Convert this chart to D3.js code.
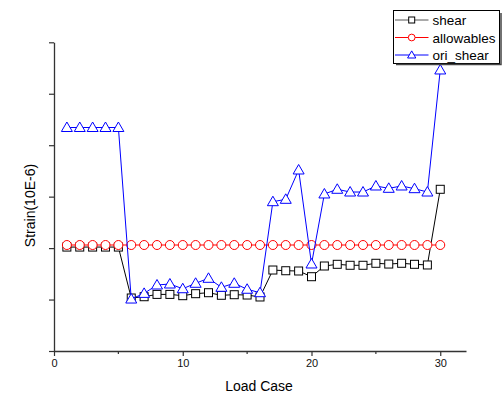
<!DOCTYPE html>
<html>
<head>
<meta charset="utf-8">
<style>
  body { margin: 0; background: #fff; }
  text { font-family: Arial, "Liberation Sans", sans-serif; }
</style>
</head>
<body>
<script src="https://d3js.org/d3.v7.min.js"></script>
<script>
  // DATA
  const loadCase = d3.range(1, 31);
  const shear = [202, 202, 202, 202, 202, 103, 105.5, 110, 110, 107.5,
    111.4, 113.3, 108.3, 109.4, 108.8, 105, 157.4, 156, 155.5, 144.4,
    165.2, 168.5, 166.6, 166.6, 170.5, 169, 170.5, 168.5, 167.2, 314.3];
  const allowables = loadCase.map(() => 206);
  const oriShear = [434.4, 434.4, 434.4, 434.4, 434.4, 101, 112, 128.3, 130.2, 121,
    131.6, 141.3, 123.8, 131.6, 120, 113.3, 290.2, 294.8, 351.8, 169.1,
    305.2, 314.3, 309, 309, 320.7, 316.2, 320.7, 315.5, 309, 546.2];
  const xTicks = [0, 10, 20, 30];
  const yTicks = [0, 100, 200, 300, 400, 500, 600];

  const series = [
    { name: "shear", values: shear, color: "#000000", legendColor: "#555555", marker: "square" },
    { name: "allowables", values: allowables, color: "#ff0000", legendColor: "#ff0000", marker: "circle" },
    { name: "ori_shear", values: oriShear, color: "#0000ff", legendColor: "#0000ff", marker: "triangle" }
  ];

  const width = 503, height = 396;
  const svg = d3.select("body").append("svg")
    .attr("width", width)
    .attr("height", height);

  const x = d3.scaleLinear().domain([0, 32]).range([54, 466]);
  const y = d3.scaleLinear().domain([0, 600]).range([351, 42.3]);

  // AXES
  const xAxis = d3.axisBottom(x).tickValues(xTicks).tickSize(5).tickSizeOuter(0).tickPadding(3);
  const gx = svg.append("g").attr("transform", "translate(0," + y(0) + ")").call(xAxis);
  gx.select(".domain").attr("stroke", "#333").attr("stroke-width", 1.3);
  gx.selectAll(".tick line").attr("stroke", "#333").attr("stroke-width", 1.2);
  gx.selectAll(".tick text").attr("font-size", 11).attr("fill", "#111");
  // minor ticks
  svg.append("g").selectAll("line")
    .data([5, 15, 25])
    .join("line")
    .attr("x1", d => x(d)).attr("x2", d => x(d))
    .attr("y1", y(0)).attr("y2", y(0) + 3)
    .attr("stroke", "#333").attr("stroke-width", 1.2);

  const yAxis = d3.axisLeft(y).tickValues(yTicks).tickSize(5).tickSizeOuter(0).tickFormat("");
  const gy = svg.append("g").attr("transform", "translate(" + x(0) + ",0)").call(yAxis);
  gy.select(".domain").attr("stroke", "#333").attr("stroke-width", 1.3);
  gy.selectAll(".tick line").attr("stroke", "#333").attr("stroke-width", 1.2);

  // AXIS TITLES
  svg.append("text")
    .attr("x", 259).attr("y", 391)
    .attr("text-anchor", "middle")
    .attr("font-size", 14)
    .text("Load Case");
  svg.append("text")
    .attr("transform", "translate(35,205.5) rotate(-90)")
    .attr("text-anchor", "middle")
    .attr("font-size", 14)
    .text("Strain(10E-6)");

  // MARKERS
  function drawMarker(g, type, cx, cy, color, k) {
    k = k || 1;
    if (type === "square") {
      g.append("rect")
        .attr("x", cx - 4 * k).attr("y", cy - 4 * k)
        .attr("width", 8 * k).attr("height", 8 * k)
        .attr("fill", "#fff").attr("stroke", color).attr("stroke-width", 1);
    } else if (type === "circle") {
      g.append("circle")
        .attr("cx", cx).attr("cy", cy).attr("r", 4.5 * k)
        .attr("fill", "#fff").attr("stroke", color).attr("stroke-width", 1);
    } else {
      g.append("path")
        .attr("d", "M" + cx + "," + (cy - 5.5 * k) + "L" + (cx + 5.5 * k) + "," + (cy + 4 * k) + "L" + (cx - 5.5 * k) + "," + (cy + 4 * k) + "Z")
        .attr("fill", "#fff").attr("stroke", color).attr("stroke-width", 1);
    }
  }

  const line = d3.line()
    .x((d, i) => x(loadCase[i]))
    .y(d => y(d));

  series.forEach(s => {
    const g = svg.append("g");
    g.append("path")
      .datum(s.values)
      .attr("d", line)
      .attr("fill", "none")
      .attr("stroke", s.color)
      .attr("stroke-width", 1);
    s.values.forEach((v, i) => drawMarker(g, s.marker, x(loadCase[i]), y(v), s.color));
  });

  // LEGEND
  const legend = svg.append("g");
  legend.append("rect")
    .attr("x", 393.5).attr("y", 10.5)
    .attr("width", 106).attr("height", 53)
    .attr("fill", "#fff").attr("stroke", "#000").attr("stroke-width", 1);
  // shadow
  legend.append("path")
    .attr("d", "M396,64.5H501V13")
    .attr("fill", "none")
    .attr("stroke", "#444").attr("stroke-width", 1.5);
  series.forEach((s, i) => {
    const ly = 20 + i * 17.5;
    legend.append("line")
      .attr("x1", 395).attr("x2", 428.5)
      .attr("y1", ly).attr("y2", ly)
      .attr("stroke", s.legendColor).attr("stroke-width", 1);
    drawMarker(legend, s.marker, 411.7, ly, s.color, 0.75);
    legend.append("text")
      .attr("x", 432.5).attr("y", ly + 5)
      .attr("font-size", 13.5)
      .text(s.name);
  });
</script>
</body>
</html>
